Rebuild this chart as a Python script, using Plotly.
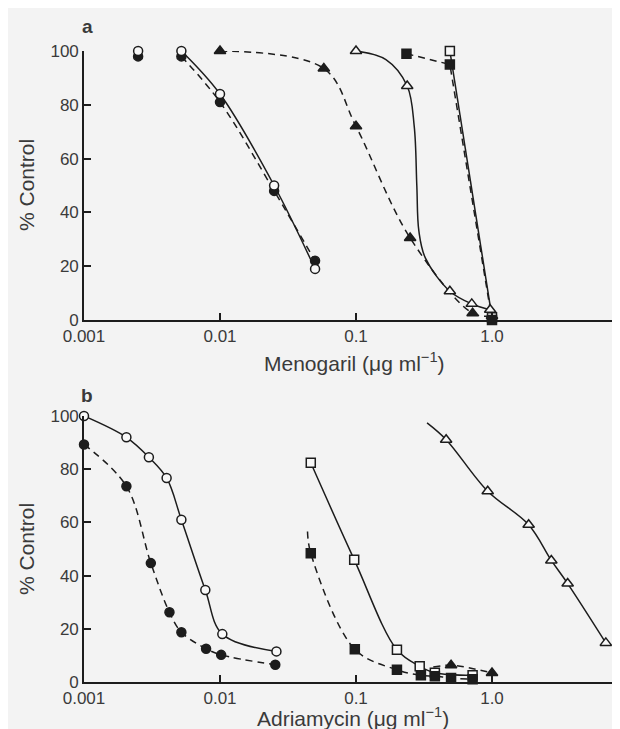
import plotly.graph_objects as go

# ---------------- Panel a : Menogaril ----------------
a_circ_x = [0.0025, 0.0052, 0.01, 0.025, 0.05]
a_open_circ_y = [100, 100, 84, 50, 19]
a_filled_circ_y = [98, 98, 81, 48, 22]

a_filled_tri_x = [0.01, 0.058, 0.1, 0.25, 0.72, 1.0]
a_filled_tri_y = [100, 93.5, 72, 30.5, 2.5, 1.5]

a_open_tri_x = [0.1, 0.238, 0.49, 0.71, 0.97]
a_open_tri_y = [100, 87, 10.7, 6, 3.8]
# hand-drawn curve through the open triangles
a_open_tri_curve_x = [0.1, 0.166, 0.238, 0.268, 0.28, 0.29, 0.324, 0.49, 0.71, 0.97]
a_open_tri_curve_y = [100, 96.8, 87, 72, 50, 33, 23, 10.7, 6, 3.8]

a_filled_sq_x = [0.235, 0.49, 1.0]
a_filled_sq_y = [99, 95, 0]
a_open_sq_x = [0.49, 1.0]
a_open_sq_y = [100, 1]

# ---------------- Panel b : Adriamycin ----------------
b_open_circ_x = [0.001, 0.00205, 0.0030, 0.00405, 0.0052, 0.0078, 0.0104, 0.026]
b_open_circ_y = [100, 92, 84.5, 76.7, 61, 34.6, 18, 11.5]
b_filled_circ_x = [0.001, 0.00205, 0.0031, 0.00425, 0.0052, 0.0079, 0.0102, 0.0255]
b_filled_circ_y = [89.3, 73.6, 44.7, 26.2, 18.7, 12.5, 10.2, 6.5]

b_open_sq_x = [0.0465, 0.097, 0.2, 0.294, 0.38, 0.72]
b_open_sq_y = [82.4, 46, 12.1, 5.9, 3.5, 2.5]
b_filled_sq_x = [0.0465, 0.098, 0.2, 0.3, 0.38, 0.5, 0.72]
b_filled_sq_y = [48.4, 12.3, 4.6, 2.5, 2.2, 1.5, 1.0]
b_filled_sq_curve_x = [0.044] + b_filled_sq_x
b_filled_sq_curve_y = [56.6] + b_filled_sq_y

b_filled_tri_x = [0.5, 1.0]
b_filled_tri_y = [6.3, 3.4]
b_filled_tri_curve_x = [0.37, 0.5, 1.0]
b_filled_tri_curve_y = [5.6, 6.3, 3.4]

b_open_tri_x = [0.46, 0.93, 1.86, 2.73, 3.6, 6.87]
b_open_tri_y = [91.1, 71.7, 59.1, 45.7, 37.0, 14.7]
b_open_tri_curve_x = [0.333] + b_open_tri_x
b_open_tri_curve_y = [97.4] + b_open_tri_y

x_tickvals = [0.001, 0.01, 0.1, 1.0]
x_ticktext = ["0.001", "0.01", "0.1", "1.0"]
y_tickvals = [0, 20, 40, 60, 80, 100]

INK = "#1c1c1c"
TXT = "#3a3a3a"
BG = "#f3f3f3"
OPEN_FILL = "#f8f8f8"
FONT = "Liberation Sans, Arial, sans-serif"
DASH = "7px,5px"

fig = go.Figure()


def line(x, y, axis, dash="solid", shape="spline"):
    fig.add_trace(go.Scatter(
        x=x, y=y, mode="lines", xaxis=axis[0], yaxis=axis[1],
        line=dict(color=INK, width=1.5, dash=dash, shape=shape, smoothing=1.0),
        hoverinfo="skip", showlegend=False, cliponaxis=False))


def marks(x, y, axis, symbol, filled, size=9):
    fig.add_trace(go.Scatter(
        x=x, y=y, mode="markers", xaxis=axis[0], yaxis=axis[1],
        marker=dict(symbol=symbol, size=size,
                    color=INK if filled else OPEN_FILL,
                    line=dict(color=INK, width=1.5)),
        showlegend=False, cliponaxis=False))


A = ("x", "y")
B = ("x2", "y2")

# lines panel a
line(a_circ_x[1:], a_open_circ_y[1:], A)
line(a_circ_x[1:], a_filled_circ_y[1:], A, DASH)
line(a_filled_tri_x, a_filled_tri_y, A, DASH)
line(a_open_tri_curve_x, a_open_tri_curve_y, A)
line(a_filled_sq_x, a_filled_sq_y, A, DASH, "linear")
line(a_open_sq_x, a_open_sq_y, A, "solid", "linear")

# lines panel b
line(b_open_circ_x, b_open_circ_y, B)
line(b_filled_circ_x, b_filled_circ_y, B, DASH)
line(b_open_sq_x, b_open_sq_y, B)
line(b_filled_sq_curve_x, b_filled_sq_curve_y, B, DASH)
line(b_filled_tri_curve_x, b_filled_tri_curve_y, B, DASH)
line(b_open_tri_curve_x, b_open_tri_curve_y, B)

# markers panel a
marks(a_circ_x, a_filled_circ_y, A, "circle", True)
marks(a_circ_x, a_open_circ_y, A, "circle", False)
marks(a_filled_tri_x, a_filled_tri_y, A, "triangle-up", True, 10)
marks(a_open_tri_x, a_open_tri_y, A, "triangle-up", False, 10)
marks(a_open_sq_x, a_open_sq_y, A, "square", False)
marks(a_filled_sq_x, a_filled_sq_y, A, "square", True)

# markers panel b
marks(b_open_circ_x, b_open_circ_y, B, "circle", False)
marks(b_filled_circ_x, b_filled_circ_y, B, "circle", True)
marks(b_open_sq_x, b_open_sq_y, B, "square", False)
marks(b_filled_sq_x, b_filled_sq_y, B, "square", True)
marks(b_filled_tri_x, b_filled_tri_y, B, "triangle-up", True, 10)
marks(b_open_tri_x, b_open_tri_y, B, "triangle-up", False, 10)

W, H = 620, 729
L, R = 76, 0


def py(p):
    return 1 - p / H


def px(p):
    return (p - L) / (W - L - R)


xcommon = dict(type="log", range=[-3, 1], showline=True, linecolor=INK, linewidth=1.6,
               ticks="inside", ticklen=7, tickwidth=1.5, tickcolor=INK,
               showgrid=False, zeroline=False, automargin=False,
               tickfont=dict(family=FONT, size=17, color=TXT))
ycommon = dict(range=[0, 100], tickvals=y_tickvals, showline=True, linecolor=INK,
               linewidth=1.6, ticks="inside", ticklen=7, tickwidth=1.5, tickcolor=INK,
               showgrid=False, zeroline=False, automargin=False,
               tickfont=dict(family=FONT, size=17, color=TXT))


def ann(text, x, y, size, xa="center", ya="middle", angle=0):
    return dict(text=text, x=px(x), y=py(y), xref="paper", yref="paper",
                xanchor=xa, yanchor=ya, textangle=angle, showarrow=False,
                font=dict(size=size, color=TXT, family=FONT))


fig.update_layout(
    width=W, height=H, autosize=False,
    margin=dict(l=L, r=R, t=0, b=0, pad=0),
    paper_bgcolor=BG, plot_bgcolor=BG,
    font=dict(family=FONT, color=TXT),
    xaxis=dict(**xcommon, anchor="y", domain=[0, 1],
               tickvals=x_tickvals, ticktext=x_ticktext),
    yaxis=dict(**ycommon, anchor="x", domain=[py(312), py(43)]),
    xaxis2=dict(**xcommon, anchor="y2", domain=[0, 1],
                tickvals=x_tickvals + [10], ticktext=x_ticktext + [""]),
    yaxis2=dict(**ycommon, anchor="x2", domain=[py(674), py(408)]),
    annotations=[
        ann("<b>a</b>", 79, 18, 19),
        ann("<b>b</b>", 79, 387, 19),
        ann("% Control", 18, 177, 21, angle=-90),
        ann("% Control", 18, 541, 21, angle=-90),
        ann("Menogaril (μg ml<sup>−1</sup>)", 346, 369, 21, ya="bottom"),
        ann("Adriamycin (μg ml<sup>−1</sup>)", 345, 724, 21, ya="bottom"),
    ],
)

fig.write_html("out.html")
